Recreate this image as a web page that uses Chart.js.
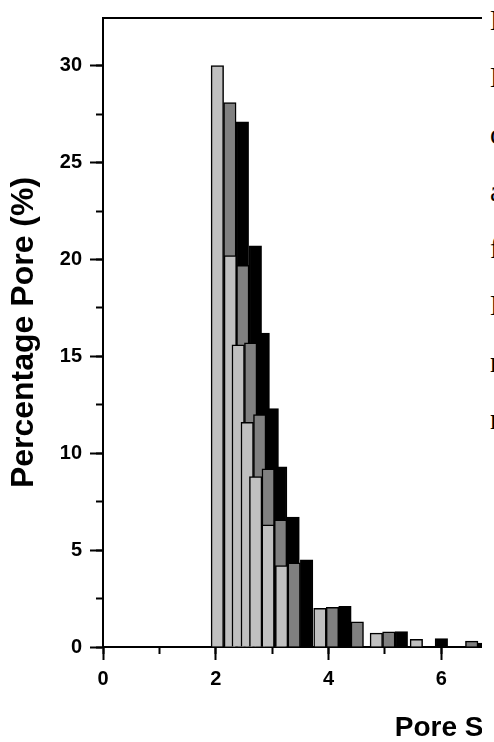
<!DOCTYPE html>
<html>
<head>
<meta charset="utf-8">
<script src="https://cdn.jsdelivr.net/npm/chart.js@4.4.0/dist/chart.umd.min.js"></script>
<style>
  html, body { margin: 0; padding: 0; background: #fff; overflow: hidden; }
  #wrap { position: relative; width: 494px; height: 742px; overflow: hidden; background: #fff; }
  #chart { position: absolute; left: 0; top: 0; }
  /* text column of the page that covers the right side of the figure */
  #sideText { position: absolute; left: 482px; top: 0; width: 60px; height: 742px; background: #fff; }
  #sideText div { position: absolute; left: 8px; top: -8px;
    font-family: "Liberation Serif", "DejaVu Serif", serif; font-size: 29px; line-height: 57px; color: #000; }
</style>
</head>
<body>
<div id="wrap">
  <canvas id="chart" width="890" height="742"></canvas>
  <div id="sideText"><div>N<br>N<br>c<br>a<br>f<br>N<br>n<br>n</div></div>
</div>
<script>
// pore size (nm) at the centre of each group of three bars
const poreSize = [2.25, 2.48, 2.62, 2.78, 2.93, 3.15, 3.39, 4.07, 4.51, 5.07, 5.78, 6.54];
// percentage pore (%) for the three samples
const seriesLight = [30.0, 20.2, 15.6, 11.6, 8.8, 6.3, 4.2, 2.0, null, 0.72, 0.39, null];
const seriesGrey  = [28.1, 19.7, 15.7, 12.0, 9.2, 6.56, 4.34, 2.05, 1.3, 0.78, null, 0.3];
const seriesBlack = [27.1, 20.7, 16.2, 12.3, 9.3, 6.7, 4.5, 2.1, null, 0.8, 0.44, 0.2];

const xMax = 13.8;     // the figure is cut at the right edge of the page
const yMax = 32.46;
const xMajorStep = 2, xMinorStep = 1;
const yMajorStep = 5, yMinorStep = 2.5;

const FONT = "'Liberation Sans', Arial, sans-serif";
Chart.defaults.font.family = FONT;
Chart.defaults.color = "#000";

function toPoints(values) {
  return poreSize.map((x, i) => ({ x: x, y: values[i] }));
}

function barSet(label, values, fill) {
  return {
    label: label,
    data: toPoints(values),
    backgroundColor: fill,
    borderColor: "#000",
    borderWidth: 1.5,
    barThickness: 12.5,
    xAxisID: "x",
    yAxisID: "y"
  };
}

const tickGrid = (len) => ({
  display: true, drawOnChartArea: false, drawTicks: true,
  tickLength: len, tickWidth: 2, tickColor: "#000", offset: false
});

new Chart(document.getElementById("chart"), {
  type: "bar",
  data: {
    datasets: [
      barSet("A", seriesLight, "#c0c0c0"),
      barSet("B", seriesGrey, "#808080"),
      barSet("C", seriesBlack, "#000000")
    ]
  },
  options: {
    responsive: false,
    animation: false,
    devicePixelRatio: 1,
    layout: { padding: { left: 8, top: 14, right: 9, bottom: 0 } },
    plugins: { legend: { display: false }, tooltip: { enabled: false } },
    scales: {
      x: {
        type: "linear", position: "bottom", weight: 1, min: 0, max: xMax, offset: false,
        grid: tickGrid(13),
        border: { display: true, width: 2, color: "#000" },
        ticks: { stepSize: xMajorStep, includeBounds: false, autoSkip: false, maxRotation: 0, padding: 9,
                 font: { size: 20, weight: "bold", lineHeight: 1 } },
        title: { display: true, text: "Pore Size (nm)", padding: 0,
                 font: { size: 28, weight: "bold", lineHeight: 1 } },
        afterFit: (s) => { s.height = 95; }
      },
      xMinor: {
        type: "linear", position: "bottom", weight: 0, min: 0, max: xMax, offset: false,
        grid: tickGrid(7),
        border: { display: false },
        ticks: { display: false, stepSize: xMinorStep, includeBounds: false, autoSkip: false },
        afterFit: (s) => { s.height = 0; }
      },
      xTop: {
        type: "linear", position: "top", min: 0, max: xMax,
        grid: { display: false },
        border: { display: true, width: 2, color: "#000" },
        ticks: { display: false },
        afterFit: (s) => { s.height = 0; }
      },
      y: {
        type: "linear", position: "left", weight: 1, min: 0, max: yMax,
        grid: tickGrid(13),
        border: { display: true, width: 2, color: "#000" },
        ticks: { stepSize: yMajorStep, includeBounds: false, padding: 8,
                 font: { size: 20, weight: "bold", lineHeight: 1 } },
        title: { display: true, text: "Percentage Pore (%)", padding: 0,
                 font: { size: 32, weight: "bold", lineHeight: 1 } },
        afterFit: (s) => { s.width = 95; }
      },
      yMinor: {
        type: "linear", position: "left", weight: 0, min: 0, max: yMax,
        grid: tickGrid(7),
        border: { display: false },
        ticks: { display: false, stepSize: yMinorStep, includeBounds: false },
        afterFit: (s) => { s.width = 0; }
      }
    }
  }
});
</script>
</body>
</html>
